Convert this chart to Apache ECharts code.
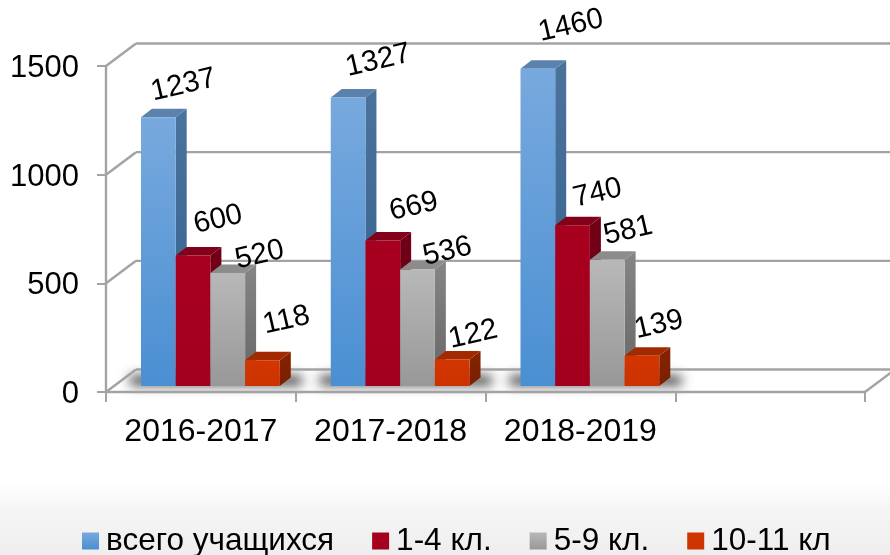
<!DOCTYPE html>
<html><head><meta charset="utf-8">
<style>html,body{margin:0;padding:0;background:#fff}#c{width:890px;height:555px}</style>
<script src="https://cdn.jsdelivr.net/npm/echarts@6/dist/echarts.min.js"></script>
</head><body><div id="c"></div>
<script>
var categories = ['2016-2017', '2017-2018', '2018-2019', ''];
var seriesNames = ['всего учащихся', '1-4 кл.', '5-9 кл.', '10-11 кл'];
var totalStudents = [1237, 1327, 1460];
var grades1to4 = [600, 669, 740];
var grades5to9 = [520, 536, 581];
var grades10to11 = [118, 122, 139];
var valueTicks = [0, 500, 1000, 1500];

// layout / style constants
var FONT = '"Liberation Sans", Arial, sans-serif';
var labelNudge = [
  [[25,-32],[30,-37],[33,-43]],
  [[25,-36],[31,-34],[25,-32]],
  [[32,-18],[30,-18],[21,-29]],
  [[24,-40],[21,-25],[17,-31]]
];
var depthWall = [30, -22.5], depthBar = [11, -8.5];
var barShiftY = -6, barW = 34.7, clusterLeft = 35;
var palette = [
  {front:['#78a9de','#4a8fd2'], side:['#4a739c','#33608e'], top:'#5a82ac'},
  {front:['#a8001f','#a3001e'], side:['#700016','#6a0014'], top:'#82001a'},
  {front:['#b8b8b8','#989898'], side:['#858585','#666666'], top:'#8c8c8c'},
  {front:['#d23600','#cc3300'], side:['#842300','#7a2000'], top:'#a32a00'}
];
function vGrad(c){return {type:'linear',x:0,y:0,x2:0,y2:1,colorStops:[{offset:0,color:c[0]},{offset:1,color:c[1]}]};}

function barSeries(s, values){
  return {
    type:'custom', name:seriesNames[s], z:5,
    coordinateSystem:'cartesian2d', clip:false,
    itemStyle:{color:vGrad(palette[s].front)},
    encode:{x:0,y:1},
    data:values.map(function(v,i){return [i,v];}),
    renderItem:function(params,api){
      var c=api.value(0), v=api.value(1);
      var p=api.coord([c,v]), p0=api.coord([c,0]);
      var band=api.size([1,0])[0];
      var x0=p[0]-band/2+clusterLeft+s*barW, x1=x0+barW;
      var yT=p[1]+barShiftY, yB=p0[1]+barShiftY;
      var dx=depthBar[0], dy=depthBar[1], col=palette[s], n=labelNudge[s][c];
      return {type:'group',children:[
        {type:'polygon',shape:{points:[[x1,yT],[x1+dx,yT+dy],[x1+dx,yB+dy],[x1,yB]]},style:{fill:vGrad(col.side)}},
        {type:'polygon',shape:{points:[[x0,yT],[x0+dx,yT+dy],[x1+dx,yT+dy],[x1,yT]]},style:{fill:col.top}},
        {type:'rect',shape:{x:x0,y:yT,width:barW,height:yB-yT},style:{fill:vGrad(col.front)}},
        {type:'text',x:(x0+x1)/2+n[0],y:yT+n[1],rotation:13*Math.PI/180,z2:50,
          style:{text:String(v),font:'29.5px '+FONT,fill:'#000',textAlign:'center',textVerticalAlign:'middle'}}
      ]};
    }
  };
}

var wallSeries = {
  type:'custom', silent:true, z:1, clip:false, legendHoverLink:false,
  encode:{y:0}, data:valueTicks.map(function(v){return [v];}),
  renderItem:function(params,api){
    var v=api.value(0), p=api.coord([0,v]);
    var band=api.size([1,0])[0];
    var xL=p[0]-band/2, xR=xL+band*4;
    var dx=depthWall[0], dy=depthWall[1], kids=[];
    var ls={stroke:'#a3a3a3',lineWidth:2.4};
    if(v===0){
      kids.push({type:'polygon',shape:{points:[[xL,p[1]],[xL+dx,p[1]+dy],[xR+dx,p[1]+dy],[xR,p[1]]]},style:{fill:'#fff'}});
      categories.slice(0,3).forEach(function(_,i){
        var cx=xL+band*i;
        // soft floor shadow: the rect itself sits off-canvas, only its blur lands on the floor
        kids.push({type:'rect',shape:{x:cx+24-3000,y:p[1]-16,width:172,height:9},
          style:{fill:'#000',shadowBlur:12,shadowColor:'rgba(40,40,40,0.95)',shadowOffsetX:3000}});
      });
      kids.push({type:'line',shape:{x1:xR,y1:p[1],x2:xR+dx,y2:p[1]+dy},style:ls});
    }
    kids.push({type:'line',shape:{x1:xL,y1:p[1],x2:xL+dx,y2:p[1]+dy},style:ls});
    kids.push({type:'line',shape:{x1:xL+dx,y1:p[1]+dy,x2:xR+dx,y2:p[1]+dy},style:ls});
    return {type:'group',children:kids};
  }
};

var chart = echarts.init(document.getElementById('c'),null,{renderer:'canvas'});
chart.setOption({
  animation:false,
  backgroundColor:{type:'linear',x:0,y:0,x2:0,y2:1,colorStops:[
    {offset:0,color:'#ffffff'},{offset:0.87,color:'#ffffff'},{offset:0.92,color:'#f5f5f5'},{offset:1,color:'#eeeeee'}]},
  grid:{left:106,top:66,width:759,height:326,containLabel:false},
  xAxis:{type:'category',data:categories,boundaryGap:true,z:3,
    axisLine:{show:true,onZero:false,lineStyle:{color:'#a3a3a3',width:2.4}},
    axisTick:{show:true,length:10,alignWithLabel:false,lineStyle:{color:'#a3a3a3',width:2}},
    axisLabel:{color:'#000',fontSize:32,fontFamily:FONT,margin:24,interval:0},
    splitLine:{show:false}},
  yAxis:{type:'value',min:0,max:1500,interval:500,z:3,
    axisLine:{show:true,lineStyle:{color:'#a3a3a3',width:2.4}},
    axisTick:{show:true,length:9,lineStyle:{color:'#a3a3a3',width:2}},
    axisLabel:{color:'#000',margin:27,
      formatter:function(v){return '{a|'+v+'}';},
      rich:{a:{color:'#000',fontSize:31,fontFamily:FONT,padding:[5,0,0,0]}}},
    splitLine:{show:false}},
  legend:{data:seriesNames,left:82,top:525,padding:0,itemWidth:17,itemHeight:17,itemGap:38,icon:'rect',
    textStyle:{color:'#000',fontSize:31.5,fontFamily:FONT,padding:[0,0,0,2]}},
  series:[wallSeries,
    barSeries(0,totalStudents),barSeries(1,grades1to4),barSeries(2,grades5to9),barSeries(3,grades10to11)]
});
</script></body></html>
